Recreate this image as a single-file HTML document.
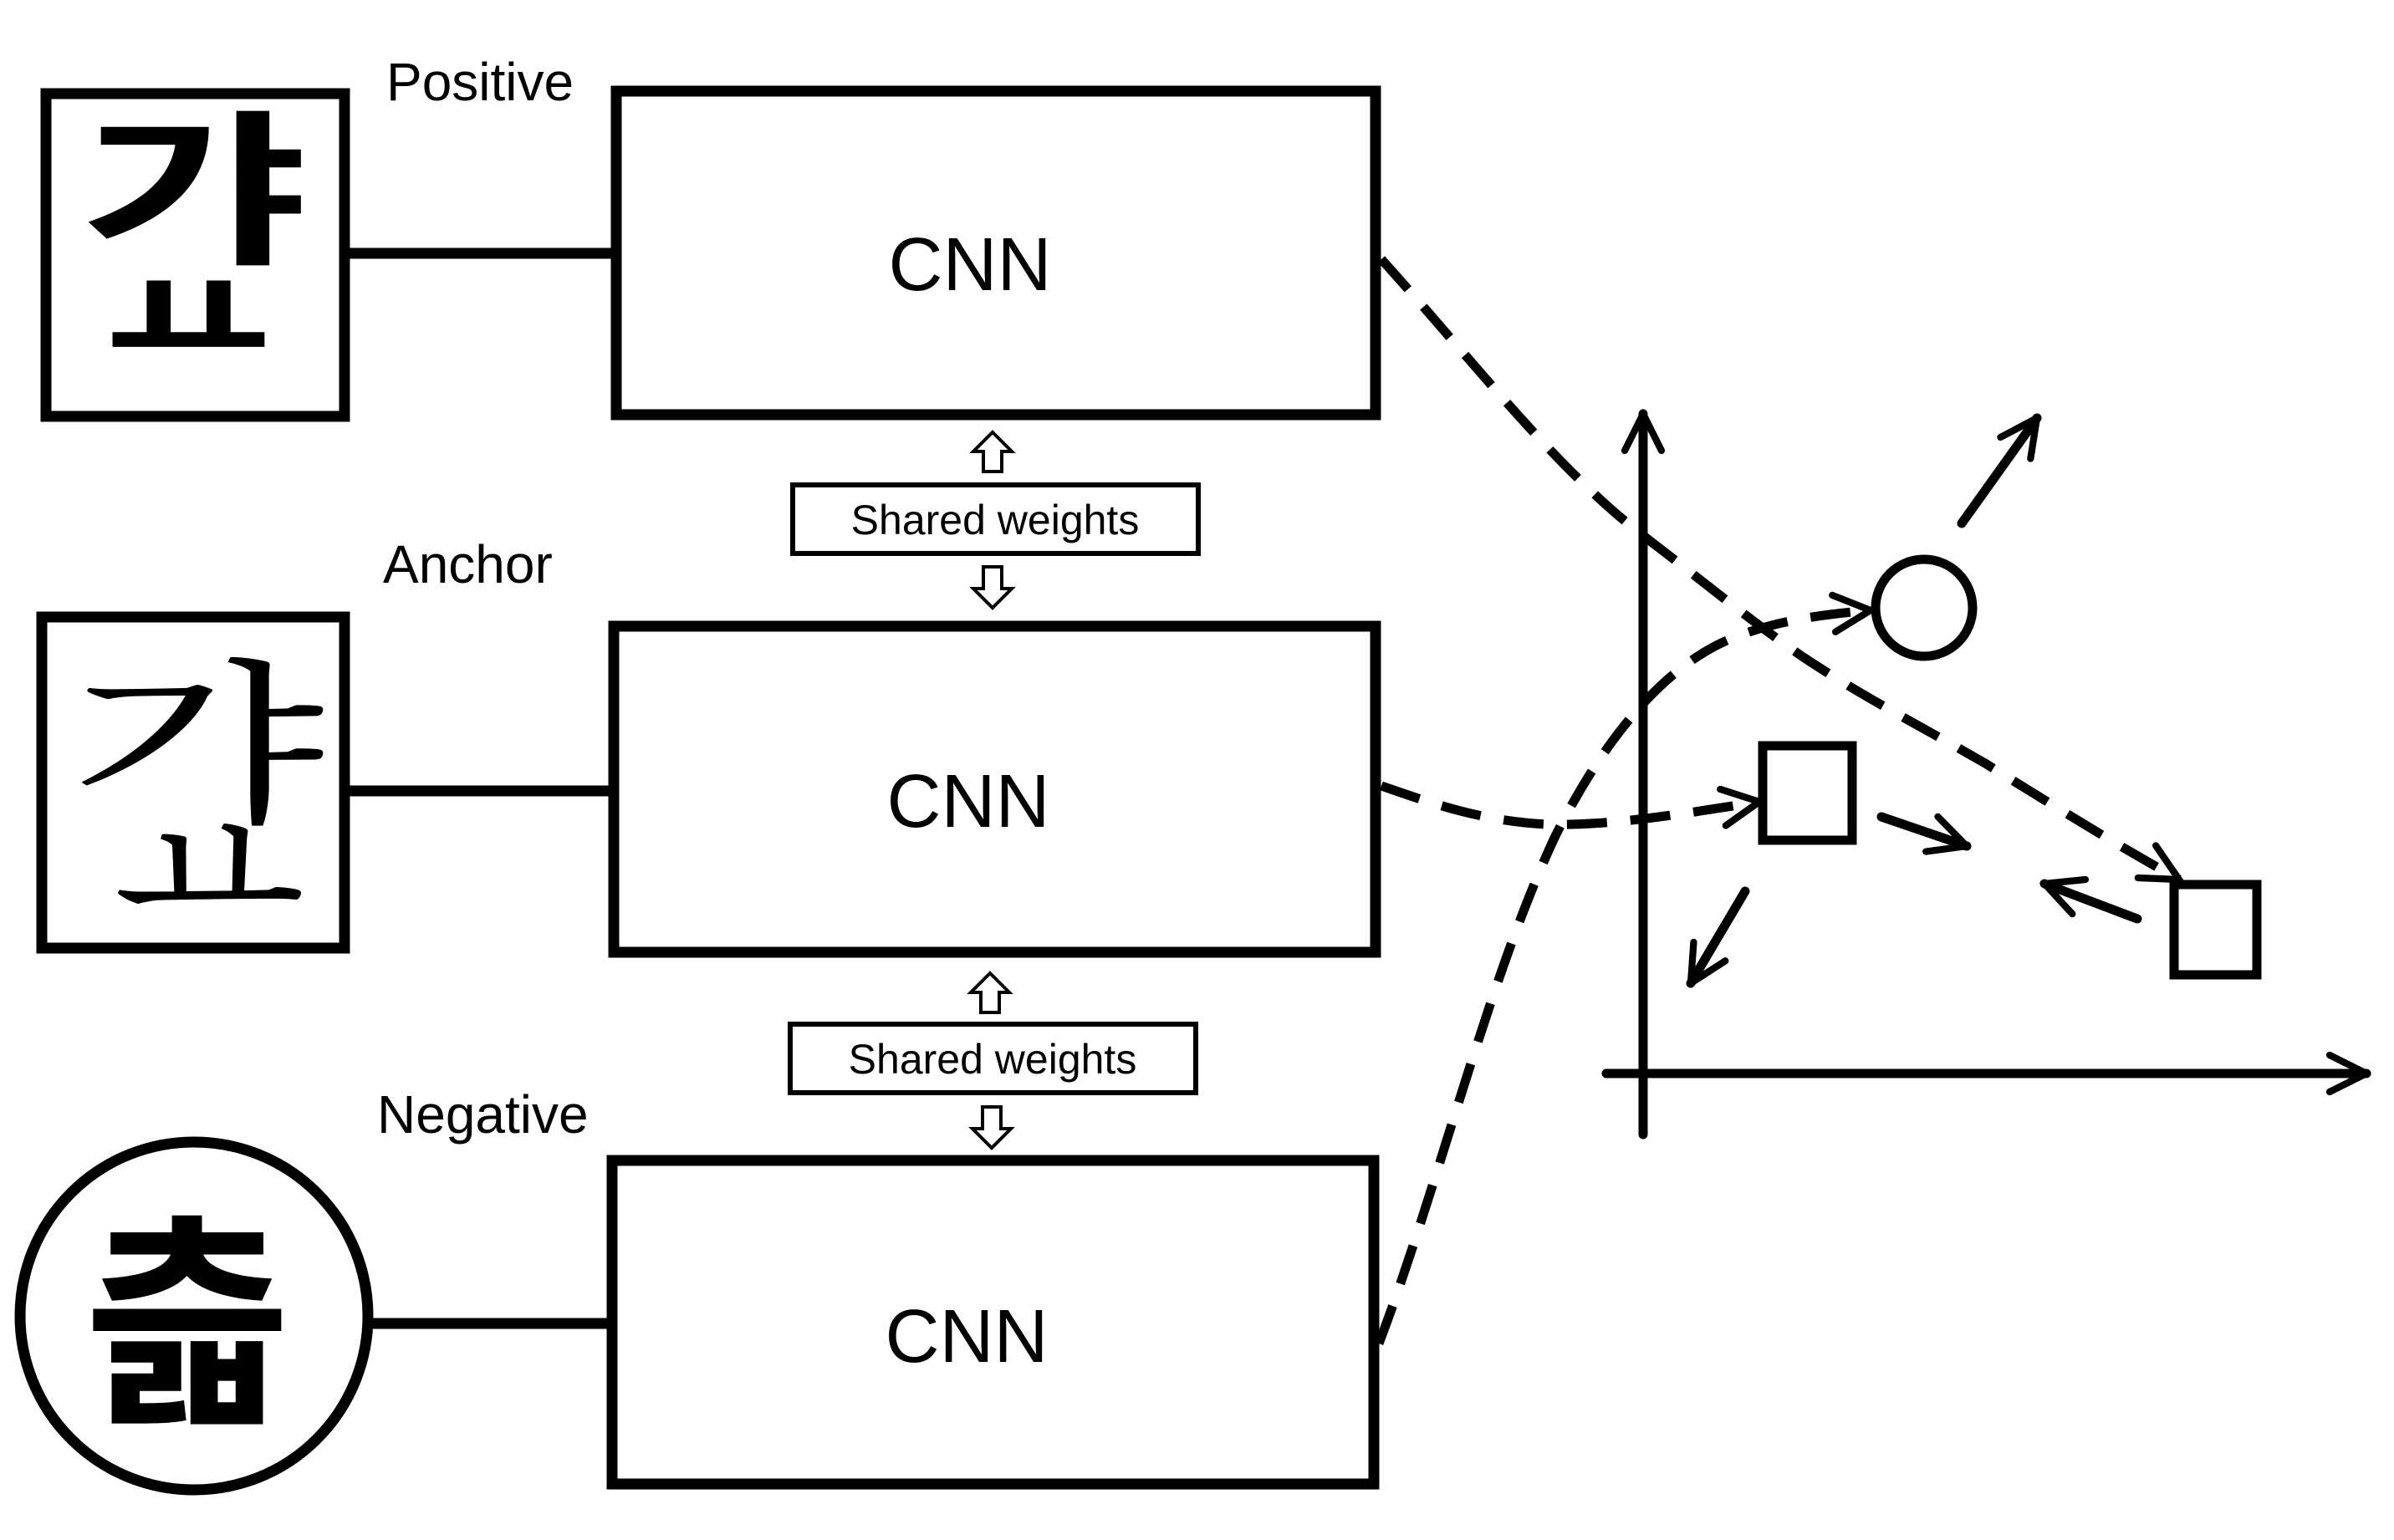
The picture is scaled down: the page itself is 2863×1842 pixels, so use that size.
<!DOCTYPE html>
<html><head><meta charset="utf-8"><style>
html,body{margin:0;padding:0;background:#fff;}
svg{display:block;}
</style></head><body>
<svg width="2863" height="1842" viewBox="0 0 2863 1842" xmlns="http://www.w3.org/2000/svg">
<defs>
<marker id="ah" viewBox="0 0 20 20" refX="18" refY="10" markerWidth="5" markerHeight="5" markerUnits="strokeWidth" orient="auto">
<path d="M2,2 L18,10 L2,18" fill="none" stroke="#000" stroke-width="3" stroke-linecap="round"/>
</marker>
</defs>
<g fill="none" stroke="#000" stroke-width="13">
<rect x="55" y="112" width="357" height="386"/>
<rect x="50" y="738" width="362" height="396"/>
<circle cx="232" cy="1574" r="208"/>
<line x1="412" y1="303" x2="735" y2="303"/>
<line x1="412" y1="946" x2="732" y2="946"/>
<line x1="440" y1="1583" x2="730" y2="1583"/>
<rect x="737" y="109" width="908" height="387"/>
<rect x="734" y="749" width="911" height="390"/>
<rect x="732" y="1388" width="911" height="387"/>
</g>
<g fill="none" stroke="#000" stroke-width="6">
<rect x="948" y="580" width="485" height="82"/>
<rect x="945" y="1225" width="485" height="82"/>
</g>
<g fill="#fff" stroke="#000" stroke-width="4">
<path d="M1187,517 L1210,540 L1198,540 L1198,564 L1176,564 L1176,540 L1164,540 Z"/>
<path d="M1187,727 L1210,704 L1198,704 L1198,678 L1176,678 L1176,704 L1164,704 Z"/>
<path d="M1184,1164 L1207,1187 L1195,1187 L1195,1211 L1173,1211 L1173,1187 L1161,1187 Z"/>
<path d="M1186,1373 L1209,1350 L1197,1350 L1197,1324 L1175,1324 L1175,1350 L1163,1350 Z"/>
</g>
<g font-family="Liberation Sans, sans-serif" fill="#000">
<text x="1190" y="622" font-size="50" text-anchor="middle" dominant-baseline="central">Shared weights</text>
<text x="1187" y="1267" font-size="50" text-anchor="middle" dominant-baseline="central">Shared weights</text>
<text x="1160" y="347" font-size="90" text-anchor="middle">CNN</text>
<text x="1158" y="989" font-size="90" text-anchor="middle">CNN</text>
<text x="1156" y="1629" font-size="90" text-anchor="middle">CNN</text>
<text x="462" y="120" font-size="64">Positive</text>
<text x="458" y="697" font-size="64">Anchor</text>
<text x="451" y="1355" font-size="64">Negative</text>
</g>
<!-- Hangul glyphs -->
<text x="0" y="0" font-family="Noto Sans CJK KR, sans-serif" font-weight="bold" font-size="190" text-anchor="middle" transform="translate(232,300) scale(1.55,1.05)">&#xAC38;</text>
<text x="0" y="0" font-family="Noto Sans CJK KR, sans-serif" font-weight="bold" font-size="150" text-anchor="middle" transform="translate(225,440) scale(1.45,1.1)">&#x315B;</text>
<text x="0" y="0" font-family="Noto Serif CJK SC, Noto Sans CJK KR, serif" font-size="210" text-anchor="middle" transform="translate(236,965) scale(1.5,1)">&#xAC38;</text>
<text x="0" y="0" font-family="Noto Serif CJK SC, Noto Sans CJK KR, serif" font-size="170" text-anchor="middle" transform="translate(250,1118) scale(1.4,1.3)">&#x315B;</text>
<text x="224" y="1680" font-family="Noto Sans CJK KR, sans-serif" font-weight="bold" font-size="270" text-anchor="middle">&#xCE2B;</text>
<!-- plot -->
<g fill="none" stroke="#000" stroke-width="11" stroke-linecap="round">
<line x1="1965" y1="1357" x2="1965" y2="495" marker-end="url(#ah)"/>
<line x1="1921" y1="1284" x2="2830" y2="1284" marker-end="url(#ah)"/>
<circle cx="2301" cy="727" r="58"/>
<rect x="2108" y="892" width="107" height="113"/>
<rect x="2600" y="1058" width="99" height="108"/>
<line x1="2346" y1="626" x2="2436" y2="500" marker-end="url(#ah)"/>
<line x1="2087" y1="1066" x2="2022" y2="1176" marker-end="url(#ah)"/>
<line x1="2250" y1="977" x2="2352" y2="1012" marker-end="url(#ah)"/>
<line x1="2556" y1="1099" x2="2445" y2="1057" marker-end="url(#ah)"/>
</g>
<g fill="none" stroke="#000" stroke-width="11" stroke-dasharray="48,28">
<path d="M1652,310 C1760,430 1860,560 1963,639 C2030,690 2090,740 2155,785 C2230,835 2300,870 2374,913 C2450,960 2530,1010 2606,1052" marker-end="url(#ah)"/>
<path d="M1652,940 C1710,960 1770,982 1850,986 C1930,988 2020,972 2104,959" marker-end="url(#ah)"/>
<path d="M1649,1607 C1720,1420 1780,1170 1860,1000 C1920,880 1990,800 2063,767 C2120,742 2180,735 2237,730" marker-end="url(#ah)"/>
</g>
</svg>
</body></html>
